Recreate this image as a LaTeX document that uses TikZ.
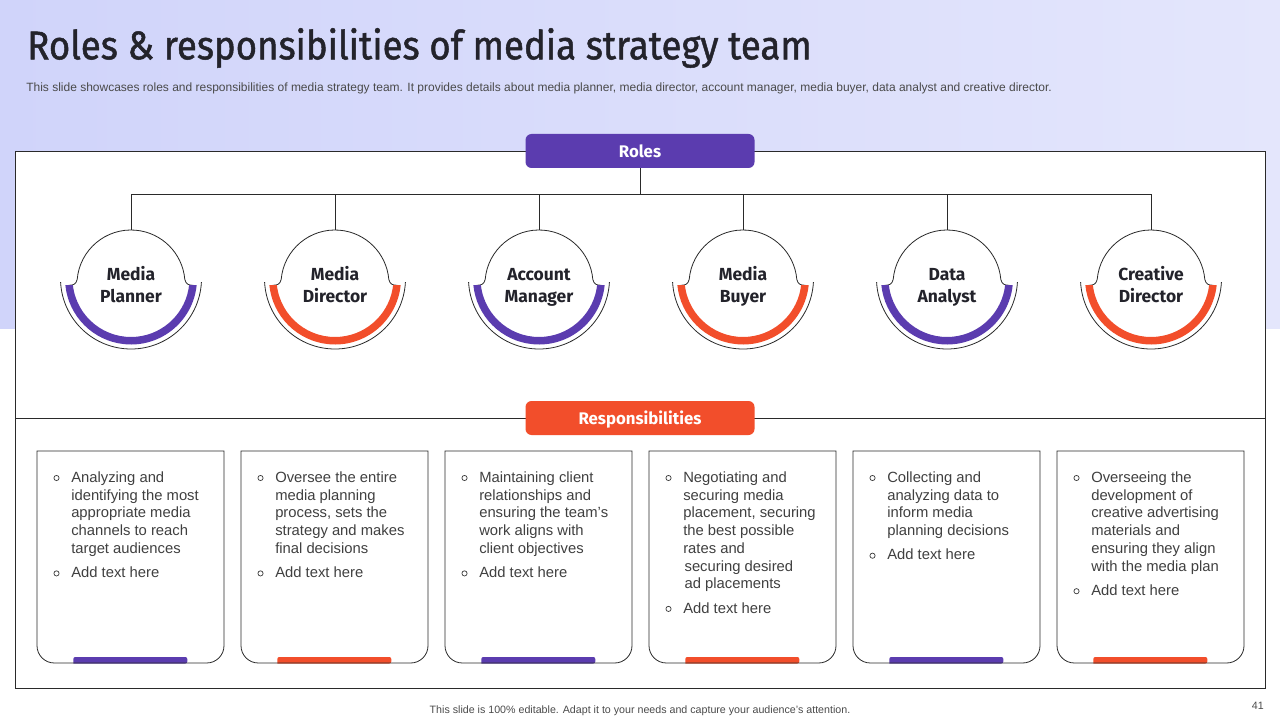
\documentclass[tikz,border=0pt]{standalone}
\usepackage{fontspec}
\setmainfont{Liberation Sans}
\newfontfamily\dinfont{Fira Sans}
\newfontfamily\titlefont[FakeStretch=0.915,FakeBold=1.2]{Fira Sans}
\usetikzlibrary{calc}
\definecolor{purp}{HTML}{5B3CAF}
\definecolor{oran}{HTML}{F24E2B}
\definecolor{bgA}{HTML}{D0D4FA}
\definecolor{bgB}{HTML}{E4E6FC}
\definecolor{txt}{HTML}{404040}
\definecolor{ttl}{HTML}{23232B}
\definecolor{linec}{HTML}{2A2A2A}
\definecolor{subc}{HTML}{4A4A4A}
\newcommand{\rolering}[2]{% #1 cx, #2 colour
  \filldraw[fill=white, draw=linec, line width=0.6pt]
    ({#1-53.8},279.3) arc[start angle=185, end angle=355, radius=54]
    .. controls ({#1+55},284) and ({#1+57},285.2) .. ({#1+62},285.3)
    arc[start angle=5.5, end angle=174.5, radius=62.3]
    .. controls ({#1-57},285.2) and ({#1-55},284) .. cycle;
  \fill[#2] ({#1+66*cos(5.7)},{278.5+66*sin(5.7)}) arc[start angle=5.7, end angle=174.3, radius=66]
    -- ({#1+58.5*cos(173.6)},{278.5+58.5*sin(173.6)}) arc[start angle=173.6, end angle=6.4, radius=58.5] -- cycle;
  \draw[linec, line width=0.6pt] ({#1+70.5*cos(3)},{278.5+70.5*sin(3)}) arc[start angle=3, end angle=177, radius=70.5];
}
\newcommand{\cardbox}[2]{% #1 left x, #2 colour
  \fill[#2] ({#1+36.3},663.5) {[rounded corners=1.5pt] -- ({#1+36.3},657) -- ({#1+150.3},657) -- ({#1+150.3},663.5)} -- cycle;
  \draw[linec, line width=0.6pt] ({#1},451) -- ({#1+187},451) -- ({#1+187},600)
    [rounded corners=13pt] -- ({#1+187},663) -- ({#1},663) -- ({#1},600) [sharp corners] -- cycle;
}
\begin{document}
\begin{tikzpicture}[x=0.75pt,y=-0.75pt,
  pill/.style={rounded corners=4.5pt, minimum width=171.75pt, minimum height=25.5pt, inner sep=0pt,
    text=white, font=\dinfont\bfseries\fontsize{12.6}{14}\selectfont, text height=9.6pt, text depth=0pt},
  rolelbl/.style={font=\dinfont\bfseries\fontsize{13.1}{16.5}\selectfont, align=center, text=ttl, inner sep=0pt},
  cardtxt/.style={font=\fontsize{11.1}{13.31}\selectfont, align=left, text=txt, inner sep=0pt, anchor=north west},
  bul/.style={draw=txt, line width=0.55pt},
  tree/.style={draw=linec, line width=0.6pt}]
\useasboundingbox (0,0) rectangle (1280,720);
% background
\shade[left color=bgA, right color=bgB] (0,0) rectangle (1280,328);
% title and subtitle
\node[anchor=base west, inner sep=0pt, text=ttl, font=\titlefont\fontsize{30}{36}\selectfont] (title) at (27,59.3)
  {Roles \& responsibilities of media strategy team};
\node[anchor=base west, inner sep=0pt, text=subc, font=\fontsize{9}{11}\selectfont] (subtitle) at (26,91.5)
  {This slide showcases roles and responsibilities of media strategy team. It provides details about media planner, media director, account manager, media buyer, data analyst and creative director.};
% main frame
\filldraw[fill=white, draw=linec, line width=0.7pt] (15,151) rectangle (1265,688);
\draw[linec, line width=0.7pt] (15,418) -- (1265,418);
% pills
\node[pill, fill=purp] (roles) at (640,151) {Roles};
\node[pill, fill=oran] (resp) at (640,418) {Responsibilities};
% tree
\coordinate (t1) at (131,230);
\coordinate (t2) at (335,230);
\coordinate (t3) at (539,230);
\coordinate (t4) at (743,230);
\coordinate (t5) at (947,230);
\coordinate (t6) at (1151,230);
\foreach \t in {t1,t2,t3,t4,t5,t6}{\draw[tree] (roles.south) -- (640,194) -| (\t);}
% rings
\rolering{131}{purp}
\rolering{335}{oran}
\rolering{539}{purp}
\rolering{743}{oran}
\rolering{947}{purp}
\rolering{1151}{oran}
\node[rolelbl] (r1) at (131,286.6) {\strut Media\\Planner\strut};
\node[rolelbl] (r2) at (335,286.6) {\strut Media\\Director\strut};
\node[rolelbl] (r3) at (539,286.6) {\strut Account\\Manager\strut};
\node[rolelbl] (r4) at (743,286.6) {\strut Media\\Buyer\strut};
\node[rolelbl] (r5) at (947,286.6) {\strut Data\\Analyst\strut};
\node[rolelbl] (r6) at (1151,286.6) {\strut Creative\\Director\strut};
% cards
\cardbox{37}{purp}
\cardbox{241}{oran}
\cardbox{445}{purp}
\cardbox{649}{oran}
\cardbox{853}{purp}
\cardbox{1057}{oran}
% card texts
\node[cardtxt] (c1a) at (71,469.6) {\strut Analyzing and\\identifying the most\\appropriate media\\channels to reach\\target audiences};
\node[cardtxt] (c1b) at (71,565) {\strut Add text here};
\node[cardtxt] (c2a) at (275,469.6) {\strut Oversee the entire\\media planning\\process, sets the\\strategy and makes\\final decisions};
\node[cardtxt] (c2b) at (275,565) {\strut Add text here};
\node[cardtxt] (c3a) at (479,469.6) {\strut Maintaining client\\relationships and\\ensuring the team's\\work aligns with\\client objectives};
\node[cardtxt] (c3b) at (479,565) {\strut Add text here};
\node[cardtxt] (c4a) at (683,469.6) {\strut Negotiating and\\securing media\\placement, securing\\the best possible\\rates and\\\hspace{1pt}securing desired\\\hspace{1pt}ad placements};
\node[cardtxt] (c4b) at (683,600.5) {\strut Add text here};
\node[cardtxt] (c5a) at (887,469.6) {\strut Collecting and\\analyzing data to\\inform media\\planning decisions};
\node[cardtxt] (c5b) at (887,547.3) {\strut Add text here};
\node[cardtxt] (c6a) at (1091,469.6) {\strut Overseeing the\\development of\\creative advertising\\materials and\\ensuring they align\\with the media plan};
\node[cardtxt] (c6b) at (1091,582.8) {\strut Add text here};
% bullets
\foreach \bx/\by in {56.5/478, 56.5/573.4, 260.5/478, 260.5/573.4, 464.5/478, 464.5/573.4,
  668.5/478, 668.5/608.9, 872.5/478, 872.5/555.7, 1076.5/478, 1076.5/591.2}
  {\draw[bul] (\bx,\by) circle[radius=2.6];}
% footer
\node[anchor=base, inner sep=0pt, text=subc, font=\fontsize{8}{10}\selectfont] (footer) at (640,713)
  {This slide is 100\% editable. Adapt it to your needs and capture your audience's attention.};
\node[anchor=base east, inner sep=0pt, text=subc, font=\fontsize{8}{10}\selectfont] (pnum) at (1264,709) {41};
\end{tikzpicture}
\end{document}
